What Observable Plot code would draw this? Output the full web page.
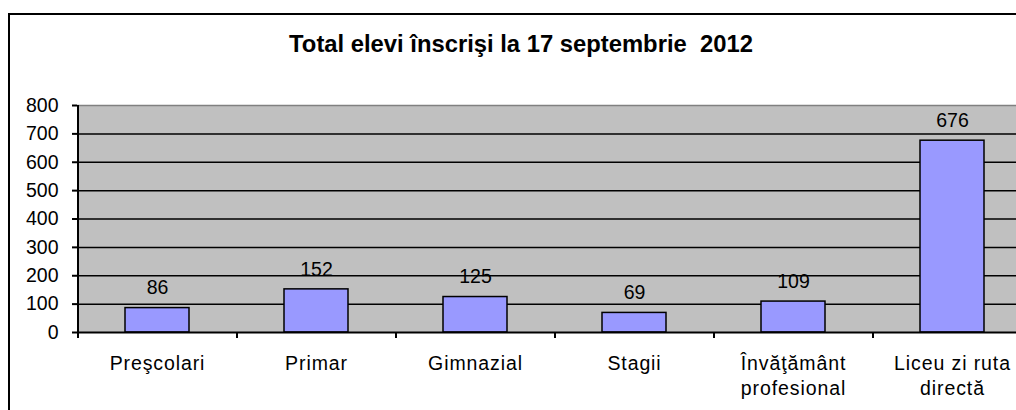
<!DOCTYPE html>
<html>
<head>
<meta charset="utf-8">
<script src="https://cdn.jsdelivr.net/npm/d3@7"></script>
<script src="https://cdn.jsdelivr.net/npm/@observablehq/plot@0.6"></script>
<style>
  html, body { margin: 0; padding: 0; background: #fff; overflow: hidden; width: 1016px; height: 410px; }
  #wrap { position: relative; width: 1016px; height: 410px; overflow: hidden; }
  #border { position: absolute; left: 8px; top: 13px; width: 2000px; height: 2000px; border: 2px solid #000; box-sizing: border-box; }
  #title { position: absolute; left: 9px; width: 1024px; top: 32px; line-height: 24px; text-align: center; font-family: "Liberation Sans", Arial, sans-serif; font-weight: bold; font-size: 23.8px; color: #000; white-space: pre; }
  #chart { position: absolute; left: 0; top: 0; }
  #chart svg { max-width: none !important; }
  .xlab text { letter-spacing: 0.9px; }
</style>
</head>
<body>
<div id="wrap">
  <div id="border"></div>
  <div id="title">Total elevi înscrişi la 17 septembrie  2012</div>
  <div id="chart"></div>
</div>
<script>
const categories = ["Preşcolari", "Primar", "Gimnazial", "Stagii", "Învăţământ\nprofesional", "Liceu zi ruta\ndirectă"];
const values = [86, 152, 125, 69, 109, 676];
const yTicks = [0, 100, 200, 300, 400, 500, 600, 700, 800];
const gridLines = [100, 200, 300, 400, 500, 600, 700];

const data = categories.map((c, i) => ({category: c, value: values[i]}));

const chart = Plot.plot({
  width: 1040,
  height: 410,
  marginLeft: 77,
  marginRight: 9,
  marginTop: 105,
  marginBottom: 78,
  style: {fontFamily: "Liberation Sans, Arial, sans-serif", fontSize: "19.5px", color: "#000", background: "transparent", overflow: "visible", maxWidth: "none"},
  x: {domain: categories, paddingInner: 0.6, paddingOuter: 0.3, axis: null},
  y: {domain: [0, 800], axis: null},
  marks: [
    Plot.frame({fill: "#C0C0C0", stroke: "none"}),
    Plot.ruleY(gridLines, {stroke: "#000", strokeWidth: 1.5}),
    Plot.ruleY([800], {stroke: "#808080", strokeWidth: 1.5}),
    Plot.barY(data, {x: "category", y: "value", fill: "#9999FF", stroke: "#000", strokeWidth: 1.5}),
    Plot.text(data, {x: "category", y: "value", text: d => String(d.value), dy: -20, fontSize: 19.5, fill: "#000"}),
    Plot.ruleY([0], {stroke: "#000", strokeWidth: 2}),
    Plot.ruleX([categories[0]], {y1: 0, y2: 800, dx: -79.5, stroke: "#000", strokeWidth: 2}),
    Plot.ruleX(categories, {y1: 0, y2: 0, insetBottom: -6, dx: -79.5, stroke: "#000", strokeWidth: 2}),
    Plot.axisY({ticks: yTicks, tickSize: 5, tickPadding: 14, tickFormat: d => String(d), fontSize: 19.5, stroke: "#000", strokeWidth: 2, strokeOpacity: 1, label: null}),
    Plot.text(categories, {x: d => d, y: 0, text: d => d, lineAnchor: "top", dy: 20, lineHeight: 1.27, fontSize: 19.5, fill: "#000", className: "xlab"})
  ]
});
document.getElementById("chart").appendChild(chart);
</script>
</body>
</html>
